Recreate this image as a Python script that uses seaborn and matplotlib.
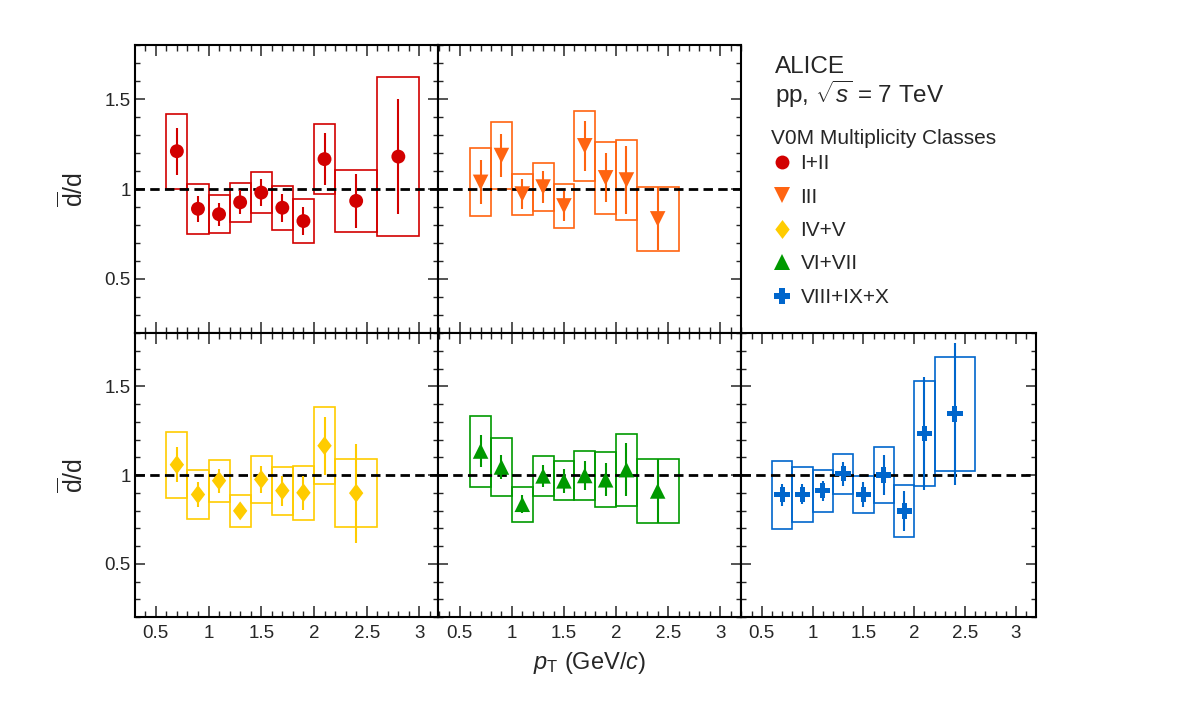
import numpy as np
import pandas as pd
import matplotlib
matplotlib.use('Agg')
import matplotlib.pyplot as plt
from matplotlib.patches import Rectangle
from matplotlib.lines import Line2D
from matplotlib.ticker import MultipleLocator
import seaborn as sns

# ---------------- data ----------------
pt_lo = [0.6, 0.8, 1.0, 1.2, 1.4, 1.6, 1.8, 2.0, 2.2, 2.6]
pt_hi = [0.8, 1.0, 1.2, 1.4, 1.6, 1.8, 2.0, 2.2, 2.6, 3.0]
pt_c = [0.7, 0.9, 1.1, 1.3, 1.5, 1.7, 1.9, 2.1, 2.4, 2.8]

classes = ['I+II', 'III', 'IV+V', 'VI+VII', 'VIII+IX+X']

r_12 = [1.21, 0.89, 0.86, 0.926, 0.98, 0.896, 0.822, 1.166, 0.934, 1.18]
stat_12 = [0.13, 0.073, 0.063, 0.067, 0.073, 0.078, 0.08, 0.146, 0.15, 0.318]
sys_12 = [0.208, 0.14, 0.107, 0.107, 0.116, 0.121, 0.124, 0.195, 0.173, 0.44]

r_3 = [1.037, 1.186, 0.972, 1.011, 0.906, 1.24, 1.062, 1.05, 0.834]
stat_3 = [0.123, 0.117, 0.082, 0.089, 0.084, 0.138, 0.136, 0.188, 0.175]
sys_3 = [0.188, 0.186, 0.114, 0.134, 0.123, 0.193, 0.199, 0.22, 0.178]

r_45 = [1.058, 0.89, 0.968, 0.798, 0.975, 0.912, 0.9, 1.165, 0.898]
stat_45 = [0.097, 0.068, 0.068, 0.03, 0.074, 0.084, 0.095, 0.163, 0.279]
sys_45 = [0.187, 0.139, 0.119, 0.092, 0.132, 0.135, 0.153, 0.218, 0.192]

r_67 = [1.135, 1.045, 0.835, 0.995, 0.967, 0.997, 0.973, 1.03, 0.91]
stat_67 = [0.088, 0.07, 0.05, 0.063, 0.068, 0.084, 0.092, 0.15, 0.18]
sys_67 = [0.2, 0.164, 0.099, 0.111, 0.11, 0.139, 0.156, 0.202, 0.18]

r_810 = [0.888, 0.892, 0.912, 1.007, 0.892, 1.0, 0.797, 1.232, 1.344]
stat_810 = [0.064, 0.057, 0.057, 0.068, 0.07, 0.113, 0.115, 0.318, 0.402]
sys_810 = [0.19, 0.155, 0.118, 0.113, 0.105, 0.158, 0.145, 0.296, 0.322]

ratios = [r_12, r_3, r_45, r_67, r_810]
stats = [stat_12, stat_3, stat_45, stat_67, stat_810]
syss = [sys_12, sys_3, sys_45, sys_67, sys_810]

colors = ['#d20000', '#ff6411', '#ffcc00', '#009900', '#0066cc']
thick_diamond = [(0, 1), (0.76, 0), (0, -1), (-0.76, 0), (0, 1)]
markers = ['o', 'v', thick_diamond, '^', 'P']
msizes = [100, 125, 185, 125, 120]

# ---------------- style ----------------
sns.set_theme(style='ticks', rc={
    'xtick.direction': 'in', 'ytick.direction': 'in',
    'xtick.top': True, 'ytick.right': True,
    'xtick.major.size': 8, 'ytick.major.size': 7,
    'xtick.minor.size': 4, 'ytick.minor.size': 3.5,
    'xtick.major.width': 1.1, 'ytick.major.width': 1.1,
    'xtick.minor.width': 1.0, 'ytick.minor.width': 1.0,
    'axes.linewidth': 1.5, 'axes.edgecolor': 'black',
})
plt.rcParams['font.family'] = ['Liberation Sans', 'DejaVu Sans']
plt.rcParams['mathtext.fontset'] = 'custom'
plt.rcParams['mathtext.rm'] = 'Liberation Sans'
plt.rcParams['mathtext.it'] = 'Liberation Sans:italic'
plt.rcParams['mathtext.bf'] = 'Liberation Sans:bold'

W, H = 1182, 703
fig = plt.figure(figsize=(W / 100, H / 100), dpi=100)

# panel frames in pixels (left, right) per column, (top, bottom) per row
cols = [(135, 438), (438, 741), (741, 1036)]
rows = [(45, 333), (333, 617)]
xlims = [(0.303, 3.176), (0.291, 3.2), (0.296, 3.197)]
slots = [(0, 0), (0, 1), (1, 0), (1, 1), (1, 2)]

for k, (r, c) in enumerate(slots):
    x0, x1 = cols[c]
    y0, y1 = rows[r]
    ax = fig.add_axes([x0 / W, 1 - y1 / H, (x1 - x0) / W, (y1 - y0) / H])
    ax.set_xlim(*xlims[c])
    ax.set_ylim(0.2, 1.8)

    n = len(ratios[k])
    df = pd.DataFrame({'pt': pt_c[:n], 'ratio': ratios[k]})
    col = colors[k]

    ax.axhline(1, color='black', lw=2.0, ls=(0, (3.4, 1.9)), zorder=2)
    for lo, hi, v, s in zip(pt_lo[:n], pt_hi[:n], ratios[k], syss[k]):
        ax.add_patch(Rectangle((lo, v - s), hi - lo, 2 * s, fill=False,
                               ec=col, lw=1.2, zorder=1))
    ax.errorbar(df['pt'], df['ratio'], yerr=stats[k], fmt='none',
                ecolor=col, elinewidth=1.5, capsize=0, zorder=3)
    sns.scatterplot(data=df, x='pt', y='ratio', marker=markers[k], s=msizes[k],
                    color=col, edgecolor='none', linewidth=0, ax=ax,
                    legend=False, zorder=4)

    ax.xaxis.set_minor_locator(MultipleLocator(0.1))
    ax.yaxis.set_minor_locator(MultipleLocator(0.1))
    ax.set_xticks([0.5, 1, 1.5, 2, 2.5, 3])
    ax.set_xticklabels(['0.5', '1', '1.5', '2', '2.5', '3'])
    ax.set_yticks([0.5, 1, 1.5])
    ax.set_yticklabels(['0.5', '1', '1.5'])
    ax.tick_params(which='both', labelsize=13.5)
    ax.tick_params(axis='x', pad=6)
    ax.tick_params(axis='y', pad=3)
    ax.set_xlabel('')
    ax.set_ylabel('')
    if r == 0:
        ax.tick_params(axis='x', labelbottom=False)
    if c != 0:
        ax.tick_params(axis='y', labelleft=False)
    else:
        ax.set_ylabel(r'$\overline{\mathrm{d}}/\mathrm{d}$', fontsize=18)
        ax.yaxis.set_label_coords(-0.158, 0.5)

fig.text(590 / W, 1 - 669 / H, r'$p_{\mathrm{T}}$ (GeV/$c$)', fontsize=17,
         ha='center', va='baseline')

fig.text(775 / W, 1 - 73 / H, 'ALICE', fontsize=17.5, va='baseline')
fig.text(775 / W, 1 - 103 / H, r'pp, $\sqrt{s}$ = 7 TeV', fontsize=17.5,
         va='baseline')
fig.text(771 / W, 1 - 144 / H, 'V0M Multiplicity Classes', fontsize=15,
         va='baseline')

handles = [Line2D([], [], marker=m, color=c, ls='none', markersize=np.sqrt(s),
                  markeredgewidth=0)
           for m, c, s in zip(markers, colors, msizes)]
leg = fig.legend(handles, classes, loc='upper left',
                 bbox_to_anchor=(763 / W, 1 - 146 / H),
                 frameon=False, fontsize=15, labelspacing=0.69,
                 handletextpad=0.34, handlelength=1.06, borderaxespad=0)

fig.savefig('out.png', dpi=100)
